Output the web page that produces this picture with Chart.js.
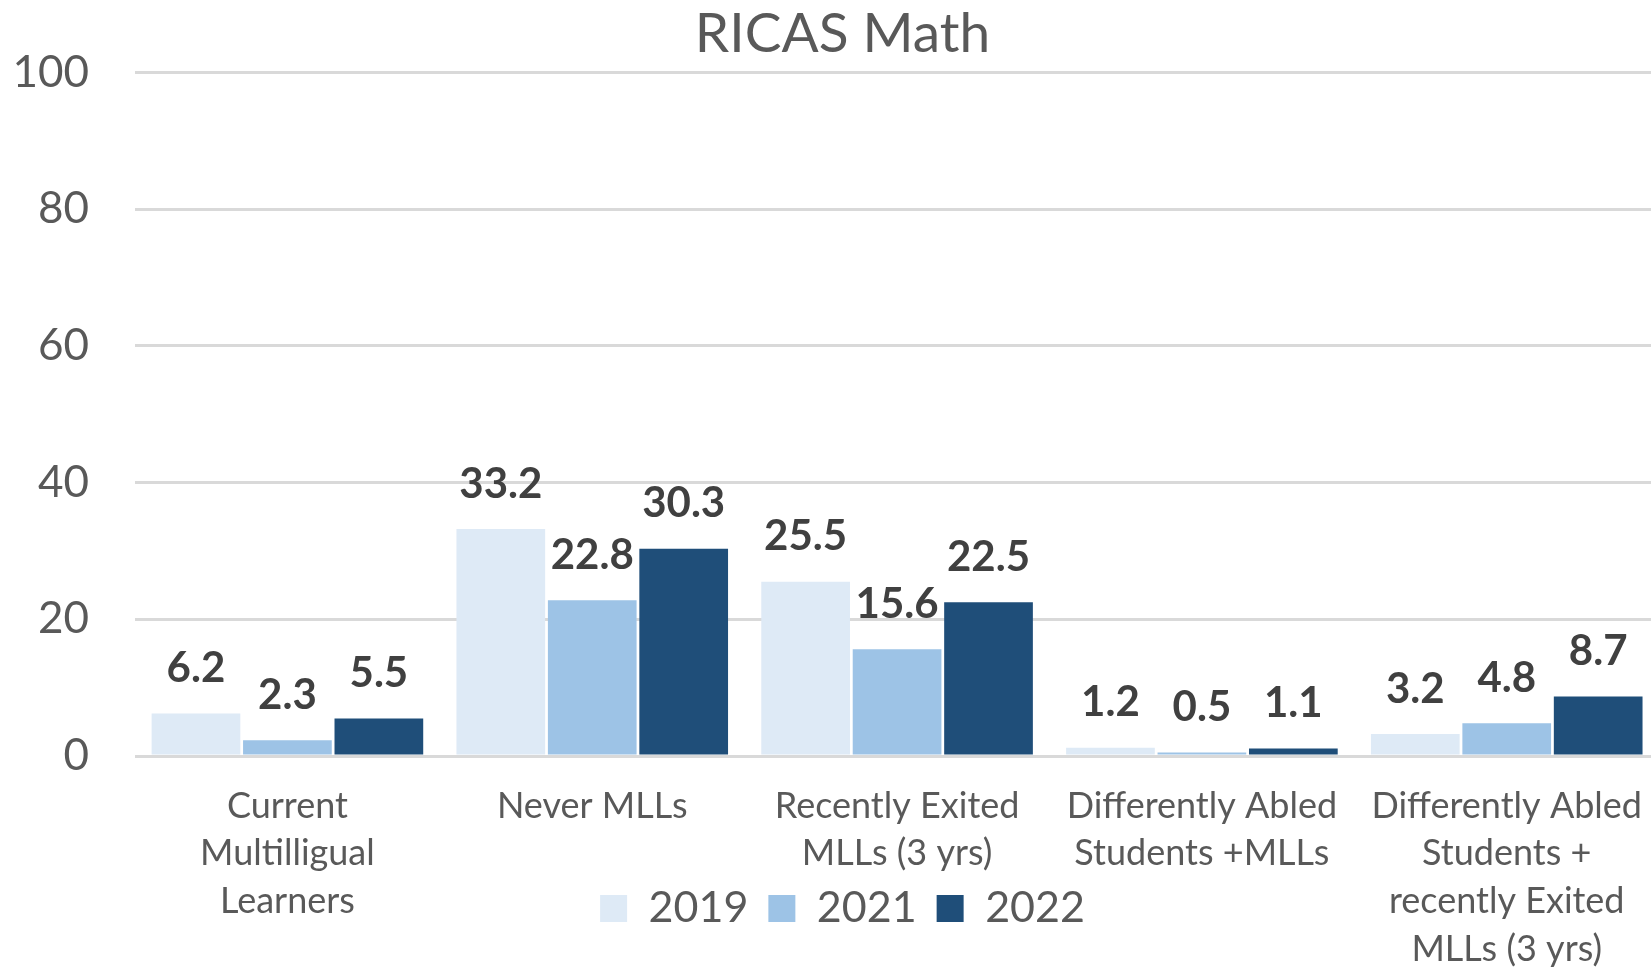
<!DOCTYPE html>
<html>
<head>
<meta charset="utf-8">
<script src="https://cdn.jsdelivr.net/npm/chart.js@4/dist/chart.umd.min.js"></script>
<style>
  html, body { margin: 0; padding: 0; background: #ffffff; overflow: hidden; }
  #wrap { position: relative; width: 1660px; height: 968px; }
  canvas { display: block; }
</style>
</head>
<body>
<div id="wrap"><canvas id="grafico"></canvas></div>
<script>
// Datos del gráfico
const categorias = [
    ['Current', 'Multilligual', 'Learners'],
    'Never MLLs',
    ['Recently Exited', 'MLLs (3 yrs)'],
    ['Differently Abled', 'Students +MLLs'],
    ['Differently Abled', 'Students +', 'recently Exited', 'MLLs (3 yrs)']
];
const valores2019 = [6.2, 33.2, 25.5, 1.2, 3.2];
const valores2021 = [2.3, 22.8, 15.6, 0.5, 4.8];
const valores2022 = [5.5, 30.3, 22.5, 1.1, 8.7];
const ticksY = [0, 20, 40, 60, 80, 100];

const fuente = 'Lato, "Open Sans", sans-serif';

// Etiquetas de valores encima de cada barra
const etiquetasPlugin = {
    id: 'etiquetas',
    afterDatasetsDraw(chart) {
        const ctx = chart.ctx;
        ctx.save();
        ctx.font = 'bold 42px ' + fuente;
        ctx.fillStyle = '#404040';
        ctx.textAlign = 'center';
        ctx.textBaseline = 'middle';
        chart.data.datasets.forEach((ds, i) => {
            chart.getDatasetMeta(i).data.forEach((bar, j) => {
                ctx.fillText(ds.data[j].toFixed(1), bar.x, bar.y - 45);
            });
        });
        ctx.restore();
    }
};

const ctx = document.getElementById('grafico').getContext('2d');
new Chart(ctx, {
    type: 'bar',
    data: {
        labels: categorias,
        datasets: [
            { label: '2019', data: valores2019, backgroundColor: '#DEEAF6' },
            { label: '2021', data: valores2021, backgroundColor: '#9DC3E6' },
            { label: '2022', data: valores2022, backgroundColor: '#1F4E79' }
        ]
    },
    options: {
        responsive: true,
        maintainAspectRatio: false,
        animation: false,
        layout: { padding: { left: 25, right: 0, top: 0, bottom: 28 } },
        datasets: {
            bar: { categoryPercentage: 0.9, barPercentage: 0.97 }
        },
        plugins: {
            title: {
                display: true,
                text: 'RICAS Math',
                color: '#595959',
                font: { family: fuente, size: 55, weight: 'normal', lineHeight: 1.2 },
                padding: { top: 0, bottom: 5 }
            },
            legend: {
                position: 'bottom',
                labels: {
                    color: '#595959',
                    font: { family: fuente, size: 43 },
                    boxWidth: 27,
                    boxHeight: 27,
                    padding: 20
                }
            },
            tooltip: { enabled: false }
        },
        scales: {
            x: {
                grid: { display: false },
                border: { display: false },
                ticks: {
                    color: '#595959',
                    font: { family: fuente, size: 36, lineHeight: 1.33 },
                    padding: 18,
                    maxRotation: 0,
                    autoSkip: false
                },
                afterFit(scale) {
                    // el eje ocupa menos alto: la leyenda se superpone a las etiquetas como en Excel
                    scale.height = 111;
                    scale._computeLabelArea = () => undefined;
                }
            },
            y: {
                min: 0,
                max: 100,
                afterBuildTicks(scale) { scale.ticks = ticksY.map(v => ({ value: v })); },
                grid: { color: '#D9D9D9', lineWidth: 3, drawTicks: false },
                border: { display: false },
                ticks: {
                    color: '#595959',
                    font: { family: fuente, size: 44 },
                    padding: 46
                },
                afterFit(scale) {
                    scale.width = 110;
                    scale._computeLabelArea = () => undefined;
                }
            }
        }
    },
    plugins: [etiquetasPlugin]
});
</script>
</body>
</html>
